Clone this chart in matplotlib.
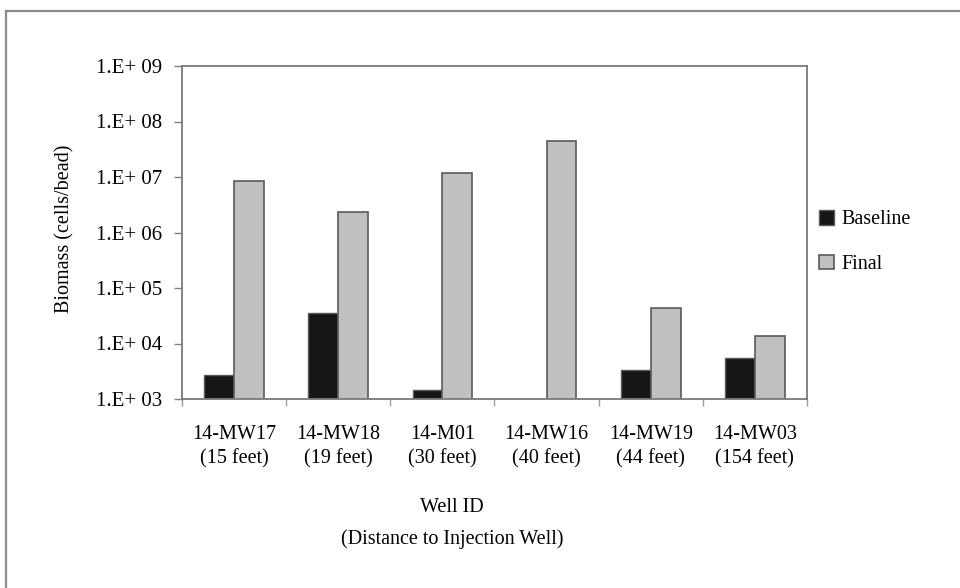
import numpy as np
import matplotlib
matplotlib.use("Agg")
import matplotlib.pyplot as plt
from matplotlib.lines import Line2D

plt.rcParams['font.family'] = ['Liberation Serif', 'DejaVu Serif']

# data
wells = ["14-MW17\n(15 feet)", "14-MW18\n(19 feet)", "14-M01\n(30 feet)",
         "14-MW16\n(40 feet)", "14-MW19\n(44 feet)", "14-MW03\n(154 feet)"]
baseline = [2.7e3, 3.5e4, 1.45e3, np.nan, 3.3e3, 5.4e3]
final = [8.5e6, 2.3e6, 1.2e7, 4.5e7, 4.3e4, 1.36e4]
ytick_vals = [1e3, 1e4, 1e5, 1e6, 1e7, 1e8, 1e9]
ytick_labels = ["1.E+ 03", "1.E+ 04", "1.E+ 05", "1.E+ 06", "1.E+ 07", "1.E+ 08", "1.E+ 09"]

W, H = 960, 588
fig = plt.figure(figsize=(W / 100, H / 100), dpi=100)
fig.patch.set_facecolor("white")

# axes placed in pixel terms
left, right, top, bottom = 182, 807, 66, 399
ax = fig.add_axes([left / W, 1 - bottom / H, (right - left) / W, (bottom - top) / H])

fs = 14.5
edge = "#5a5a5a"
x = np.arange(len(wells))
bw = 0.286
ax.bar(x - bw / 2, baseline, bw, color="#161616", edgecolor=edge, linewidth=1.0, label="Baseline")
ax.bar(x + bw / 2, final, bw, color="#c0c0c0", edgecolor=edge, linewidth=1.2, label="Final")

ax.set_yscale("log")
ax.set_ylim(1e3, 1e9)
ax.set_xlim(-0.5, len(wells) - 0.5)
ax.yaxis.set_major_locator(matplotlib.ticker.FixedLocator(ytick_vals))
ax.yaxis.set_minor_locator(matplotlib.ticker.NullLocator())
ax.set_yticklabels(ytick_labels, fontsize=15)
ax.tick_params(axis="y", direction="out", length=6, width=1, color="#808080", pad=8)

# category boundaries get the ticks, names sit in the middle
ax.set_xticks(np.arange(len(wells) + 1) - 0.5)
ax.set_xticklabels([])
ax.set_xticks(x, minor=True)
ax.set_xticklabels(wells, minor=True, fontsize=fs, linespacing=1.3)
ax.tick_params(axis="x", which="major", direction="out", length=5, width=1, color="#9a9a9a")
ax.tick_params(axis="x", which="minor", length=0, pad=19)

for s in ax.spines.values():
    s.set_color("#7a7a7a")
    s.set_linewidth(1.3)

fig.text(65 / W, 1 - 229 / H, "Biomass (cells/bead)", rotation=90, fontsize=fs,
         ha="center", va="center")
fig.text(452 / W, 1 - 508 / H, "Well ID", fontsize=fs, ha="center", va="center")
fig.text(452 / W, 1 - 539 / H, "(Distance to Injection Well)", fontsize=fs, ha="center", va="center")

ax.legend(loc="center left", bbox_to_anchor=(819 / W, 1 - 242 / H),
          bbox_transform=fig.transFigure, frameon=False, fontsize=fs,
          handlelength=0.75, handleheight=0.75, handletextpad=0.35,
          borderpad=0, borderaxespad=0, labelspacing=1.25)

# frame of the original picture: only top and left edges show
fig.add_artist(Line2D([6 / W, 1], [1 - 11 / H, 1 - 11 / H], color="#8c8c8c", linewidth=1.6,
                      transform=fig.transFigure))
fig.add_artist(Line2D([6 / W, 6 / W], [0, 1 - 11 / H], color="#8c8c8c", linewidth=1.6,
                      transform=fig.transFigure))

fig.savefig("out.png", dpi=100, facecolor="white")
